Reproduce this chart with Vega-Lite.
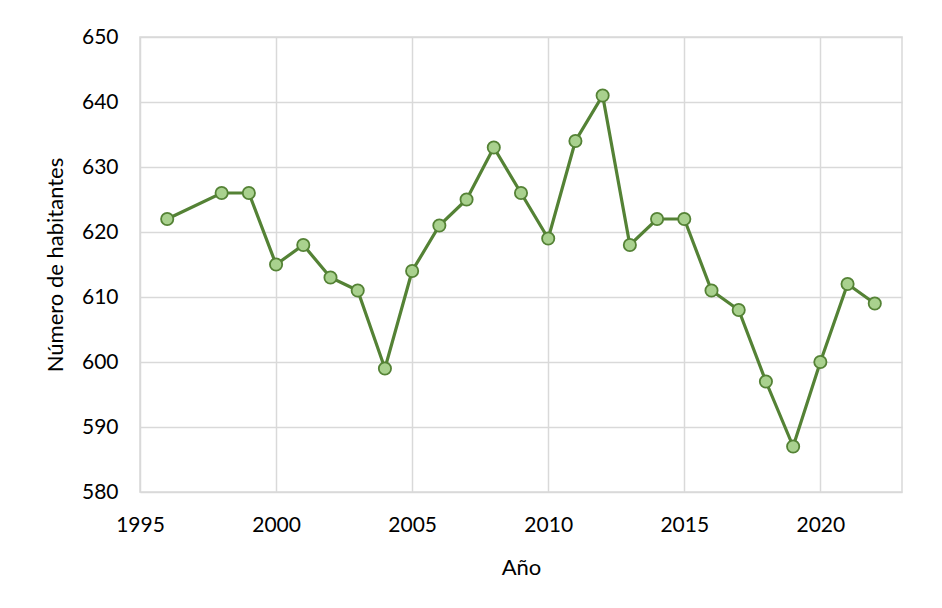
{
  "$schema": "https://vega.github.io/schema/vega-lite/v6.json",
  "autosize": "none",
  "width": 762,
  "height": 455,
  "padding": {"left": 140, "top": 37, "right": 40, "bottom": 116},
  "background": "white",
  "config": {
    "font": "Lato",
    "view": {"stroke": "#d9d9d9", "strokeWidth": 1.5},
    "axis": {
      "labelFont": "Lato", "titleFont": "Lato", "labelFontSize": 21, "titleFontSize": 22,
      "labelColor": "#000000", "titleColor": "#000000", "titleFontWeight": "normal",
      "gridColor": "#d9d9d9", "gridWidth": 1.5, "ticks": false, "domain": false
    }
  },
  "data": {"values": [
    {"year": 1996, "hab": 622}, {"year": 1998, "hab": 626}, {"year": 1999, "hab": 626},
    {"year": 2000, "hab": 615}, {"year": 2001, "hab": 618}, {"year": 2002, "hab": 613},
    {"year": 2003, "hab": 611}, {"year": 2004, "hab": 599}, {"year": 2005, "hab": 614},
    {"year": 2006, "hab": 621}, {"year": 2007, "hab": 625}, {"year": 2008, "hab": 633},
    {"year": 2009, "hab": 626}, {"year": 2010, "hab": 619}, {"year": 2011, "hab": 634},
    {"year": 2012, "hab": 641}, {"year": 2013, "hab": 618}, {"year": 2014, "hab": 622},
    {"year": 2015, "hab": 622}, {"year": 2016, "hab": 611}, {"year": 2017, "hab": 608},
    {"year": 2018, "hab": 597}, {"year": 2019, "hab": 587}, {"year": 2020, "hab": 600},
    {"year": 2021, "hab": 612}, {"year": 2022, "hab": 609}
  ]},
  "encoding": {
    "x": {"field": "year", "type": "quantitative", "title": "Año",
      "scale": {"domain": [1995, 2023], "nice": false, "zero": false},
      "axis": {"values": [1995, 2000, 2005, 2010, 2015, 2020], "format": "d", "labelFlush": false, "labelPadding": 22, "titlePadding": 22}},
    "y": {"field": "hab", "type": "quantitative", "title": "Número de habitantes",
      "scale": {"domain": [580, 650], "nice": false, "zero": false},
      "axis": {"values": [580, 590, 600, 610, 620, 630, 640, 650], "labelPadding": 22, "titlePadding": 14}}
  },
  "layer": [
    {"mark": {"type": "line", "color": "#548235", "strokeWidth": 3.2}},
    {"mark": {"type": "point", "filled": true, "fill": "#a9d18e", "stroke": "#548235", "strokeWidth": 1.8, "size": 150, "opacity": 1}}
  ]
}
